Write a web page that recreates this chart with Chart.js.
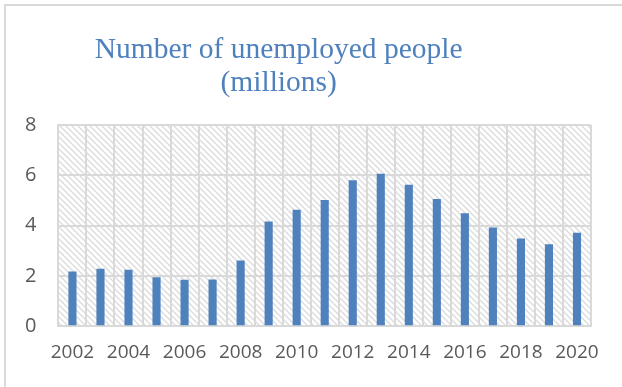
<!DOCTYPE html>
<html>
<head>
<meta charset="utf-8">
<script src="https://cdn.jsdelivr.net/npm/chart.js@4/dist/chart.umd.min.js"></script>
<style>
  html, body { margin: 0; padding: 0; background: #fff; }
  #wrap { width: 622px; height: 387px; }
</style>
</head>
<body>
<div id="wrap"><canvas id="js--chart"></canvas></div>
<script>
const years = [
    "2002", "2003", "2004", "2005", "2006", "2007", "2008", "2009", "2010", "2011",
    "2012", "2013", "2014", "2015", "2016", "2017", "2018", "2019", "2020",
]
const unemployed = [
    2.17, 2.28, 2.24, 1.95, 1.85, 1.86, 2.61, 4.16, 4.63, 5.02,
    5.80, 6.06, 5.62, 5.06, 4.49, 3.92, 3.49, 3.26, 3.72,
]
const yTicks = [0, 2, 4, 6, 8]
const titleLines = ["Number of unemployed people", "(millions)"]

const gridGrey = "#d9d9d9"

// diagonal hatch for the plot background
const makeHatch = () => {
    const c = document.createElement("canvas")
    c.width = 6
    c.height = 6
    const g = c.getContext("2d")
    g.fillStyle = "#ffffff"
    g.fillRect(0, 0, 6, 6)
    g.strokeStyle = "#dcdcdc"
    g.lineWidth = 1.4
    g.beginPath()
    g.moveTo(-1, -1)
    g.lineTo(7, 7)
    g.moveTo(-1, 5)
    g.lineTo(1, 7)
    g.moveTo(5, -1)
    g.lineTo(7, 1)
    g.stroke()
    return c
}

const backdrop = {
    id: "backdrop",
    beforeDraw(chart) {
        const { ctx, chartArea: a } = chart
        ctx.save()
        // outer frame
        ctx.strokeStyle = gridGrey
        ctx.lineWidth = 2
        ctx.beginPath()
        ctx.moveTo(5, chart.height + 5)
        ctx.lineTo(5, 5)
        ctx.lineTo(chart.width + 5, 5)
        ctx.stroke()
        // hatched plot area
        ctx.fillStyle = ctx.createPattern(makeHatch(), "repeat")
        ctx.fillRect(a.left, a.top, a.right - a.left, a.bottom - a.top)
        ctx.restore()
    },
    afterDraw(chart) {
        const { ctx } = chart
        ctx.save()
        ctx.fillStyle = "#4f81bd"
        ctx.font = "29.5px 'Liberation Serif', serif"
        ctx.textAlign = "center"
        ctx.textBaseline = "alphabetic"
        const cx = chart.width * 0.448
        ctx.fillText(titleLines[0], cx, 58)
        ctx.fillText(titleLines[1], cx, 91)
        ctx.restore()
    },
}

new Chart(document.getElementById("js--chart"), {
    type: "bar",
    data: {
        labels: years,
        datasets: [{
            label: "Unemployed",
            data: unemployed,
            backgroundColor: "#4f81bd",
            barPercentage: 0.29,
            categoryPercentage: 1,
        }],
    },
    options: {
        responsive: true,
        maintainAspectRatio: false,
        animation: false,
        layout: { padding: { top: 125, right: 31, left: 3, bottom: 8 } },
        plugins: { legend: { display: false }, tooltip: { enabled: false } },
        scales: {
            x: {
                grid: { color: gridGrey, lineWidth: 2, drawTicks: false, offset: true },
                border: { color: gridGrey, width: 2 },
                ticks: {
                    autoSkip: false,
                    maxRotation: 0,
                    padding: 15,
                    color: "#595959",
                    font: { family: "'Open Sans', sans-serif", size: 19 },
                    callback: (v, i) => (i % 2 === 0 ? years[i] : ""),
                },
            },
            y: {
                min: yTicks[0],
                max: yTicks[yTicks.length - 1],
                afterBuildTicks: (s) => { s.ticks = yTicks.map((v) => ({ value: v })) },
                grid: { color: gridGrey, lineWidth: 2, drawTicks: false },
                border: { color: gridGrey, width: 2 },
                ticks: {
                    padding: 22,
                    color: "#595959",
                    font: { family: "'Open Sans', sans-serif", size: 20 },
                },
            },
        },
    },
    plugins: [backdrop],
})
</script>
</body>
</html>
